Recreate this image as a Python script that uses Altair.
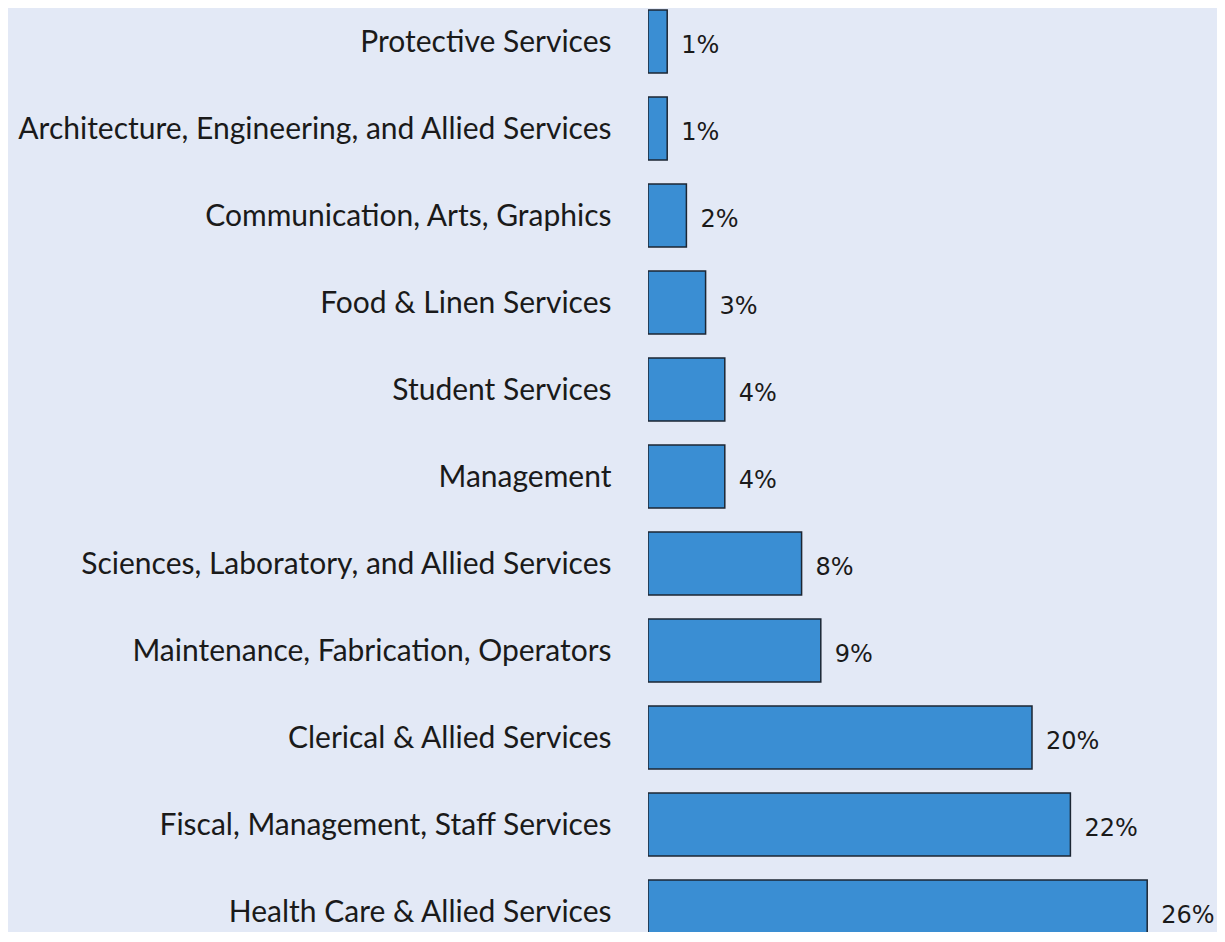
import altair as alt
import pandas as pd

categories = [
    "Protective Services",
    "Architecture, Engineering, and Allied Services",
    "Communication, Arts, Graphics",
    "Food & Linen Services",
    "Student Services",
    "Management",
    "Sciences, Laboratory, and Allied Services",
    "Maintenance, Fabrication, Operators",
    "Clerical & Allied Services",
    "Fiscal, Management, Staff Services",
    "Health Care & Allied Services",
]
values = [1, 1, 2, 3, 4, 4, 8, 9, 20, 22, 26]
labels = ["1%", "1%", "2%", "3%", "4%", "4%", "8%", "9%", "20%", "22%", "26%"]

df = pd.DataFrame({"category": categories, "value": values, "label": labels})

PLOT_W = 569
PLOT_H = 924
PX_PER_PCT = 19.2
STEP = 87
PAD_INNER = 0.276

x_scale = alt.Scale(domain=[0, PLOT_W / PX_PER_PCT], nice=False, zero=True)
y_scale = alt.Scale(
    paddingInner=PAD_INNER, paddingOuter=0,
    range=[2, 2 + STEP * (len(categories) - PAD_INNER)],
)

y_enc = alt.Y(
    "category:N",
    sort=categories,
    scale=y_scale,
    axis=alt.Axis(
        title=None, ticks=False, domain=False, labelPadding=37,
        labelFont="Lato", labelFontSize=30, labelFontWeight=400,
        labelColor="#1a1a1a", labelOffset=2, labelLimit=700,
    ),
)

base = alt.Chart(df)
bars = base.mark_bar(
    color="#3a8ed3", stroke="#1c2633", strokeWidth=1.5, clip=True
).encode(
    y=y_enc,
    x=alt.X("value:Q", scale=x_scale, axis=None),
)
text = base.mark_text(
    align="left", baseline="middle", dx=14, dy=5,
    font="DejaVu Sans", fontSize=24, color="#1a1a1a",
).encode(
    y=alt.Y("category:N", sort=categories),
    x=alt.X("value:Q", scale=x_scale),
    text="label:N",
)

chart = (
    alt.layer(bars, text)
    .properties(
        width=PLOT_W, height=PLOT_H,
        padding={"left": 640, "top": 0, "right": 0, "bottom": 0},
        autosize=alt.AutoSizeParams(type="none"),
        background="#e3e9f6",
    )
    .configure_view(stroke=None)
)

chart.save("out.html", embed_options={"renderer": "svg", "actions": False})
